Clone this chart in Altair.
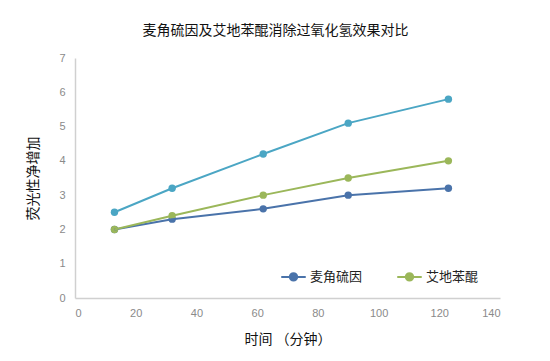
import altair as alt
import pandas as pd

times = [13, 32, 62, 90, 123]
ergo = [2.0, 2.3, 2.6, 3.0, 3.2]
idebenone = [2.0, 2.4, 3.0, 3.5, 4.0]
control = [2.5, 3.2, 4.2, 5.1, 5.8]

series_names = ["麦角硫因", "艾地苯醌", "对照"]
series_colors = ["#4A73AA", "#9BB75A", "#4BA6C4"]

rows = []
for name, vals in zip(series_names, [ergo, idebenone, control]):
    for t, v in zip(times, vals):
        rows.append({"时间": t, "值": v, "系列": name})
df = pd.DataFrame(rows)

cjk = "Noto Sans CJK SC"
num_font = "Liberation Sans"

sym_path = "M-1,0 L-0.3,0 M0.3,0 L1,0 M-0.3,0 A0.3,0.3 0 1,1 0.3,0 A0.3,0.3 0 1,1 -0.3,0 Z"

legend = alt.Legend(
    title=None,
    orient="none",
    legendX=205,
    legendY=205,
    direction="horizontal",
    values=["麦角硫因", "艾地苯醌"],
    symbolType=sym_path,
    symbolSize=600,
    symbolStrokeWidth=2,
    symbolOpacity=1,
    labelFont=cjk,
    labelFontSize=13,
    labelColor="#222222",
    labelOffset=3,
    columnPadding=30,
)

base = alt.Chart(df).encode(
    x=alt.X("时间:Q",
            scale=alt.Scale(domain=[0, 140], nice=False, zero=True),
            axis=alt.Axis(title="时间 （分钟）", values=[0, 20, 40, 60, 80, 100, 120, 140],
                          grid=False, ticks=False, domainColor="#d0d0d0", domainWidth=1.5,
                          labelColor="#8a8a8a", labelFont=num_font, labelFontSize=11,
                          labelPadding=9, titleFont=cjk, titleFontSize=14,
                          titleFontWeight="normal", titleColor="#111111", titlePadding=14)),
    y=alt.Y("值:Q",
            scale=alt.Scale(domain=[0, 7], nice=False),
            axis=alt.Axis(title="荧光性净增加", values=[0, 1, 2, 3, 4, 5, 6, 7],
                          grid=False, ticks=False, domainColor="#d0d0d0", domainWidth=1.5,
                          labelColor="#8a8a8a", labelFont=num_font, labelFontSize=11,
                          labelPadding=10, titleFont=cjk, titleFontSize=14,
                          titleFontWeight="normal", titleColor="#111111", titlePadding=18)),
    color=alt.Color("系列:N",
                    scale=alt.Scale(domain=series_names, range=series_colors),
                    legend=legend),
    order=alt.Order("时间:Q"),
)

lines = base.mark_line(strokeWidth=2)
points = base.mark_point(filled=True, size=55, opacity=1)

chart = alt.layer(points, lines).properties(
    width=425,
    height=240,
    title=alt.TitleParams("麦角硫因及艾地苯醌消除过氧化氢效果对比",
                          font=cjk, fontSize=14, fontWeight="normal",
                          color="#111111", anchor="middle", dx=-12, offset=14),
    autosize=alt.AutoSizeParams(type="none"),
    padding={"left": 67, "top": 50, "right": 34, "bottom": 55},
).configure_view(stroke=None)

chart.save("out.html", embed_options={"renderer": "svg", "actions": False})
